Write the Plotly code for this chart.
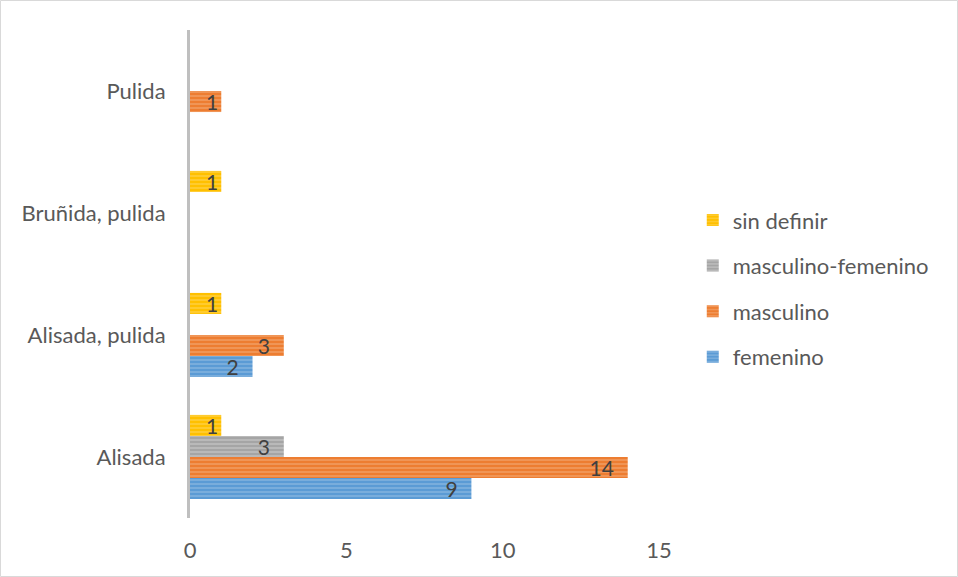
import plotly.graph_objects as go

# categorias (de abajo hacia arriba)
categorias = ["Alisada", "Alisada, pulida", "Bruñida, pulida", "Pulida"]

femenino = [9, 2, None, None]
masculino = [14, 3, None, 1]
masculino_femenino = [3, None, None, None]
sin_definir = [1, 1, 1, None]

series = [
    ("femenino", femenino, "#5B9BD5", "#9DC3E6", 4),
    ("masculino", masculino, "#ED7D31", "#F4B183", 3),
    ("masculino-femenino", masculino_femenino, "#A5A5A5", "#D0D0D0", 2),
    ("sin definir", sin_definir, "#FFC000", "#FFD966", 1),
]

fig = go.Figure()
for name, vals, color, light, rank in series:
    fig.add_trace(go.Bar(
        y=categorias,
        x=vals,
        name=name,
        orientation="h",
        legendgroup=name,
        legendrank=rank,
        marker=dict(
            color=color,
            line_width=0,
            pattern=dict(shape="-", bgcolor=color, fgcolor=light,
                         size=4, solidity=0.45, fillmode="overlay"),
        ),
        # espacio final para separar la etiqueta del extremo de la barra
        text=[("" if v is None else str(v) + ("\u00a0\u00a0" if v > 1 else "")) for v in vals],
        textposition="inside",
        insidetextanchor="end",
        textangle=0,
        constraintext="none",
        textfont=dict(color="#404040", size=21),
        hoverinfo="x+y+name",
    ))

fig.update_layout(
    width=958,
    height=577,
    barmode="group",
    bargap=0.31,
    bargroupgap=0,
    plot_bgcolor="white",
    paper_bgcolor="white",
    font=dict(family="Lato, Open Sans, sans-serif", size=22, color="#595959"),
    margin=dict(l=190, r=299, t=30, b=59),
    legend=dict(
        x=1.072, y=0.47, xanchor="left", yanchor="middle",
        traceorder="grouped", tracegroupgap=14,
        font=dict(size=22, color="#595959"),
        bgcolor="rgba(0,0,0,0)",
    ),
    shapes=[dict(
        type="rect", xref="paper", yref="paper",
        x0=-189.5 / 469, x1=(957.5 - 190) / 469,
        y0=-58.5 / 488, y1=(488 + 29.5) / 488,
        line=dict(color="#D9D9D9", width=1), layer="below",
    )],
)

fig.update_xaxes(
    range=[0, 15], dtick=5, showgrid=False, zeroline=False,
    showline=False, ticks="", ticklabelstandoff=17,
)
fig.update_yaxes(
    showgrid=False, zeroline=False, showline=True, linecolor="#BFBFBF",
    linewidth=3, ticks="", ticklabelstandoff=17,
)

fig.write_html("out.html", config={"displayModeBar": False},
               post_script="document.body.style.margin='0';")
